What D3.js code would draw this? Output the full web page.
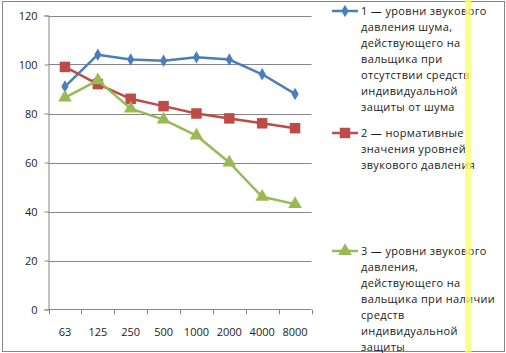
<!DOCTYPE html>
<html>
<head>
<meta charset="utf-8">
<script src="https://cdn.jsdelivr.net/npm/d3@7"></script>
<style>
  body { margin: 0; background: #fff; }
  svg { display: block; font-family: "Open Sans", sans-serif; }
</style>
</head>
<body>
<svg width="506" height="353"></svg>
<script>
const freqs = ['63', '125', '250', '500', '1000', '2000', '4000', '8000'];
const noiseLevels = [91, 104, 102, 101.5, 103, 102, 96, 88];
const normLevels = [99, 92, 86, 83, 80, 78, 76, 74];
const protectedLevels = [86.5, 93.5, 82, 77.5, 71, 60, 46, 43];
const yTicks = [0, 20, 40, 60, 80, 100, 120];

const legendText = [
  ['1 — уровни звукового', 'давления шума,', 'действующего на', 'вальщика при', 'отсутствии средств', 'индивидуальной', 'защиты от шума'],
  ['2 — нормативные', 'значения уровней', 'звукового давления'],
  ['3 — уровни звукового', 'давления,', 'действующего на', 'вальщика при наличии', 'средств', 'индивидуальной', 'защиты']
];

const series = [
  { vals: noiseLevels, color: '#4a7ebb', marker: 'diamond' },
  { vals: normLevels, color: '#be4b48', marker: 'square' },
  { vals: protectedLevels, color: '#98b954', marker: 'triangle' }
];

const svg = d3.select('svg');

// outer frame
svg.append('rect')
  .attr('x', 2.5).attr('y', 1.5)
  .attr('width', 502).attr('height', 350)
  .attr('fill', '#fff')
  .attr('stroke', '#868686');

const x = d3.scaleBand()
  .domain(freqs)
  .range([48.5, 311.5]);

const y = d3.scaleLinear()
  .domain([0, 120])
  .range([309.5, 15.5]);

// grid lines
svg.append('g')
  .selectAll('line')
  .data(yTicks.slice(1))
  .join('line')
  .attr('x1', 48.5).attr('x2', 311.5)
  .attr('y1', d => Math.round(y(d)) + 0.5)
  .attr('y2', d => Math.round(y(d)) + 0.5)
  .attr('stroke', '#868686');

// y axis
const yAxis = svg.append('g')
  .attr('transform', 'translate(48.5,0)')
  .call(d3.axisLeft(y).tickValues(yTicks).tickSize(4).tickPadding(7));
yAxis.select('.domain').attr('stroke', '#868686');
yAxis.selectAll('line').attr('stroke', '#868686');
yAxis.selectAll('text').attr('font-size', 11).attr('fill', '#222')
  .attr('font-family', '"Open Sans", sans-serif');

// x axis
const xAxis = svg.append('g')
  .attr('transform', 'translate(0,309.5)');
xAxis.append('line')
  .attr('x1', 48.5).attr('x2', 311.5)
  .attr('stroke', '#868686');
xAxis.selectAll('.tk')
  .data(freqs.concat(['end']))
  .join('line')
  .attr('x1', (d, i) => Math.round(48.5 + i * x.step()) + 0.5)
  .attr('x2', (d, i) => Math.round(48.5 + i * x.step()) + 0.5)
  .attr('y1', 0).attr('y2', 5)
  .attr('stroke', '#868686');
xAxis.selectAll('text')
  .data(freqs)
  .join('text')
  .attr('x', d => x(d) + x.bandwidth() / 2)
  .attr('y', 26)
  .attr('text-anchor', 'middle')
  .attr('font-size', 11)
  .attr('fill', '#222')
  .text(d => d);

const cx = (d, i) => x(freqs[i]) + x.bandwidth() / 2;

const line = d3.line()
  .x(cx)
  .y(d => y(d));

const symbols = {
  diamond: d3.symbol().type(d3.symbolDiamond).size(45),
  square: d3.symbol().type(d3.symbolSquare).size(110),
  triangle: d3.symbol().type(d3.symbolTriangle).size(80)
};

series.forEach(s => {
  svg.append('path')
    .attr('d', line(s.vals))
    .attr('fill', 'none')
    .attr('stroke', s.color)
    .attr('stroke-width', 2.5)
    .attr('stroke-linejoin', 'round');
  svg.append('g')
    .selectAll('path')
    .data(s.vals)
    .join('path')
    .attr('transform', (d, i) => `translate(${cx(d, i)},${y(d)})`)
    .attr('d', symbols[s.marker]())
    .attr('fill', s.color);
});

// legend
const legendTop = [11, 133, 251];
const lh = 16;
series.forEach((s, k) => {
  const g = svg.append('g').attr('transform', `translate(0,${legendTop[k]})`);
  g.append('line')
    .attr('x1', 332).attr('x2', 358)
    .attr('y1', 0).attr('y2', 0)
    .attr('stroke', s.color).attr('stroke-width', 2.5);
  g.append('path')
    .attr('transform', 'translate(345,0)')
    .attr('d', symbols[s.marker]())
    .attr('fill', s.color);
  legendText[k].forEach((t, j) => {
    g.append('text')
      .attr('x', 361)
      .attr('y', j * lh + 4)
      .attr('font-size', 11)
      .attr('letter-spacing', 0.35)
      .attr('fill', '#222')
      .text(t);
  });
});

// yellow highlight stripe
svg.append('rect')
  .attr('x', 465).attr('y', 0)
  .attr('width', 6.5).attr('height', 353)
  .attr('fill', '#ffff66')
  .attr('opacity', 0.75);
</script>
</body>
</html>
